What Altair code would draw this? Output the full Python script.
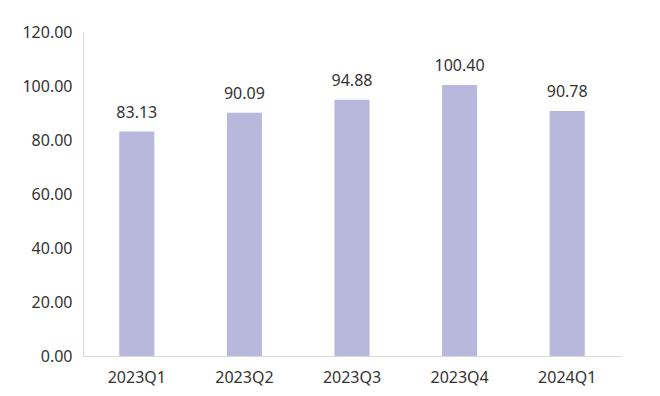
import altair as alt
import pandas as pd

quarters = ["2023Q1", "2023Q2", "2023Q3", "2023Q4", "2024Q1"]
values = [83.13, 90.09, 94.88, 100.40, 90.78]
y_ticks = [0, 20, 40, 60, 80, 100, 120]

df = pd.DataFrame({"quarter": quarters, "value": values})
df["label"] = [f"{v:.2f}" for v in values]

FONT = "Noto Sans"
TXT = "#333333"

base = alt.Chart(df).encode(
    x=alt.X(
        "quarter:N",
        sort=quarters,
        title=None,
        scale=alt.Scale(paddingInner=0.674, paddingOuter=0.337),
        axis=alt.Axis(
            labelAngle=0, labelFontSize=16, labelColor=TXT, labelFont=FONT,
            labelPadding=13, ticks=False, domainColor="#d9d9d9", domainWidth=1,
        ),
    ),
    y=alt.Y(
        "value:Q",
        title=None,
        scale=alt.Scale(domain=[0, 120], nice=False),
        axis=alt.Axis(
            values=y_ticks, format=".2f", labelFontSize=16, labelColor=TXT,
            labelFont=FONT, labelPadding=11, ticks=False, grid=False,
            domainColor="#d9d9d9", domainWidth=1,
        ),
    ),
)

bars = base.mark_bar(color="#b8b8dc")
labels = base.mark_text(dy=-19, baseline="middle", fontSize=16, color=TXT, font=FONT).encode(
    text="label:N"
)

chart = (
    (bars + labels)
    .properties(
        width=538,
        height=324,
        autosize=alt.AutoSizeParams(type="none"),
        padding={"left": 75, "top": 24, "right": 24, "bottom": 32},
        background="white",
    )
    .configure_view(stroke=None)
)

chart.save("out.html", embed_options={"renderer": "svg", "actions": False})
